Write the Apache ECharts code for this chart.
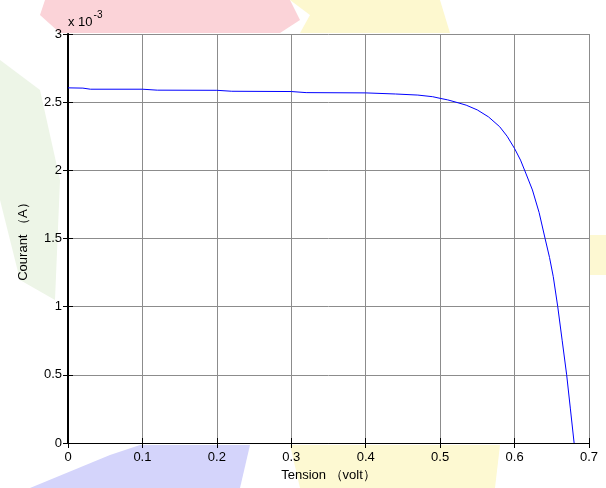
<!DOCTYPE html>
<html>
<head>
<meta charset="utf-8">
<script src="https://cdn.jsdelivr.net/npm/echarts@6/dist/echarts.min.js"></script>
<style>
  html, body { margin: 0; padding: 0; background: #fff; }
  #chart { width: 606px; height: 488px; }
</style>
</head>
<body>
<div id="chart"></div>
<script>
// tension (volt) and current (x 10^-3 A)
const tension = [0, 0.02, 0.03, 0.1, 0.12, 0.2, 0.22, 0.3, 0.32, 0.4, 0.44, 0.47, 0.49, 0.5,
  0.51, 0.52, 0.535, 0.55, 0.565, 0.58, 0.59, 0.6, 0.608, 0.615, 0.624, 0.633, 0.641,
  0.647, 0.652, 0.658, 0.664, 0.67, 0.675, 0.68];
const courant = [2.605, 2.603, 2.595, 2.595, 2.588, 2.587, 2.58, 2.578, 2.57, 2.568, 2.56, 2.552, 2.54, 2.528,
  2.517, 2.502, 2.478, 2.443, 2.392, 2.32, 2.25, 2.16, 2.075, 1.98, 1.856, 1.69, 1.5,
  1.36, 1.22, 1.0, 0.75, 0.5, 0.25, 0.0];
const xTicks = [0, 0.1, 0.2, 0.3, 0.4, 0.5, 0.6, 0.7];
const yTicks = [0, 0.5, 1, 1.5, 2, 2.5, 3];

const points = tension.map((v, i) => [v, courant[i]]);
const chart = echarts.init(document.getElementById('chart'));
const font = 'Liberation Sans, Arial, sans-serif';

const blob = (pts, color) => ({
  type: 'polygon', silent: true, z: -10,
  shape: { points: pts },
  style: { fill: color }
});

const option = {
  backgroundColor: '#fff',
  animation: false,
  graphic: [
    blob([[45, 0], [290, 0], [300, 20], [280, 33], [60, 33], [40, 15]], '#fbd3d8'),
    blob([[290, 0], [440, 0], [450, 33], [300, 33], [310, 15]], '#fdf8cf'),
    blob([[0, 60], [40, 90], [60, 180], [55, 300], [20, 280], [0, 200]], '#edf5e7'),
    blob([[30, 488], [110, 455], [140, 445], [250, 445], [240, 488]], '#d4d4fb'),
    blob([[290, 445], [500, 445], [495, 488], [300, 488]], '#fdf9d2'),
    blob([[590, 235], [606, 235], [606, 275], [590, 275]], '#fdf8d2'),
    {
      type: 'text', left: 68, top: 10, silent: true,
      style: {
        text: '{a|x 10}{b|-3}',
        rich: {
          a: { fontSize: 13, fontFamily: font, fill: '#000', padding: [6, 0, 0, 0] },
          b: { fontSize: 10, fontFamily: font, fill: '#000', verticalAlign: 'top', padding: [0, 0, 0, 1] }
        }
      }
    }
  ],
  grid: { left: 68, right: 17, top: 34, bottom: 45, show: true, backgroundColor: '#fff', borderWidth: 0 },
  xAxis: [{
    type: 'value', min: 0, max: 0.7, interval: 0.1,
    name: 'Tension （volt）', nameLocation: 'middle', nameGap: 25,
    nameTextStyle: { fontSize: 13, fontFamily: font, color: '#000' },
    axisLine: { lineStyle: { color: '#000', width: 1 } },
    axisTick: { inside: true, length: 5, lineStyle: { color: '#000' } },
    axisLabel: { fontSize: 13, fontFamily: font, color: '#000', margin: 8,
      formatter: v => String(+v.toFixed(1)) },
    splitLine: { show: true, lineStyle: { color: '#8c8c8c', width: 1 } }
  }, {
    type: 'value', position: 'top', min: 0, max: 0.7, interval: 0.1,
    axisLine: { lineStyle: { color: '#000', width: 1 } },
    axisTick: { inside: true, length: 5, lineStyle: { color: '#000' } },
    axisLabel: { show: false }, splitLine: { show: false }
  }],
  yAxis: [{
    type: 'value', min: 0, max: 3, interval: 0.5,
    name: 'Courant （A）', nameLocation: 'middle', nameGap: 38, nameRotate: 90,
    nameTextStyle: { fontSize: 13, fontFamily: font, color: '#000' },
    axisLine: { show: true, lineStyle: { color: '#000', width: 1 } },
    axisTick: { show: true, inside: true, length: 5, lineStyle: { color: '#000' } },
    axisLabel: { fontSize: 13, fontFamily: font, color: '#000', margin: 6,
      formatter: v => String(+v.toFixed(1)) },
    splitLine: { show: true, lineStyle: { color: '#8c8c8c', width: 1 } }
  }, {
    type: 'value', position: 'right', min: 0, max: 3, interval: 0.5,
    axisLine: { show: true, lineStyle: { color: '#000', width: 2 } },
    axisTick: { show: true, inside: true, length: 5, lineStyle: { color: '#000' } },
    axisLabel: { show: false }, splitLine: { show: false }
  }],
  series: [{
    type: 'line',
    data: points,
    showSymbol: false,
    smooth: false,
    lineStyle: { color: '#0000ff', width: 1 },
    z: 5
  }]
};
chart.setOption(option);
</script>
</body>
</html>
